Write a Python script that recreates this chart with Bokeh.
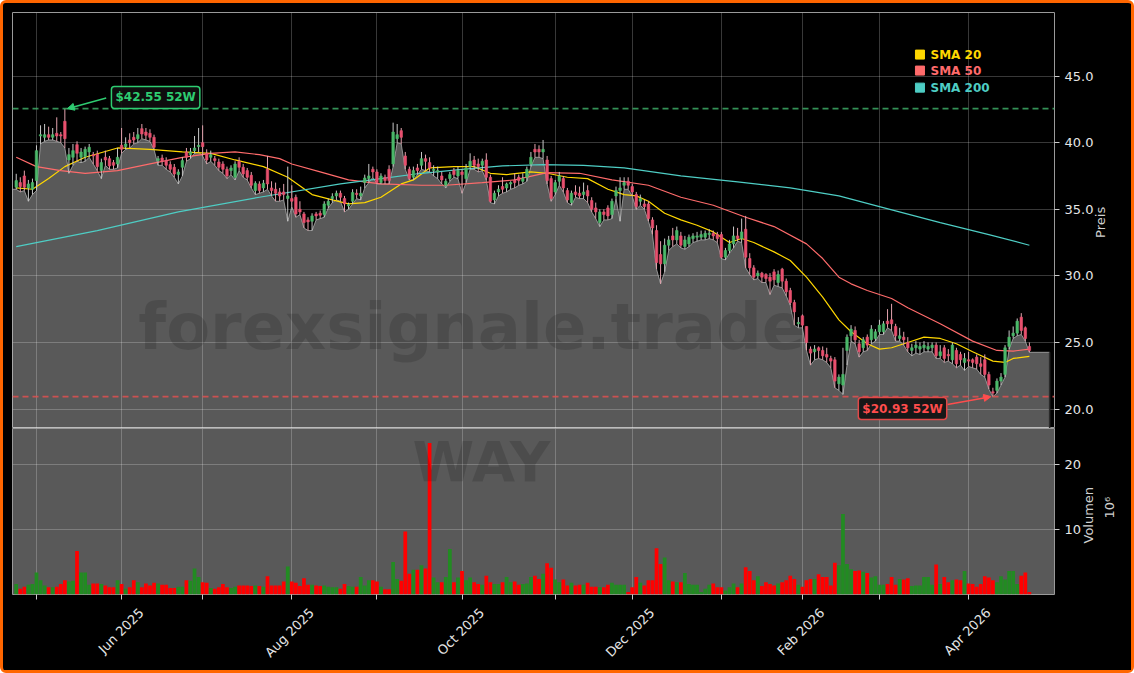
import math
from bokeh.plotting import figure
from bokeh.layouts import column
from bokeh.models import (ColumnDataSource, FixedTicker, PrintfTickFormatter,
                          Range1d, Label, Arrow, NormalHead, Span, LinearAxis)
from bokeh.core.properties import value
from bokeh.embed import file_html
from bokeh.resources import INLINE

# ---------------- data ----------------
opens = [
    36.65, 37.0, 37.5, 36.6, 36.5, 37.15, 40.5, 40.4, 40.6, 40.4,
    40.7, 40.6, 41.6, 38.7, 38.9, 39.85, 38.9, 38.95, 39.3, 39.1,
    39.15, 37.9, 38.9, 38.8, 38.5, 38.4, 39.8, 39.7, 40.2, 40.4,
    40.3, 41.05, 40.8, 40.7, 40.4, 38.65, 38.85, 38.65, 38.35, 38.15,
    37.6, 38.15, 39.3, 39.1, 39.4, 39.7, 40.0, 39.2, 38.9, 38.8,
    38.55, 38.4, 38.0, 37.9, 37.4, 38.6, 38.15, 37.9, 37.55, 36.4,
    36.9, 36.6, 38.0, 36.6, 36.5, 36.3, 36.3, 35.8, 35.8, 35.9,
    35.0, 34.65, 34.2, 34.1, 34.65, 34.7, 34.6, 35.3, 35.8, 36.0,
    36.2, 35.8, 35.25, 35.6, 36.2, 36.0, 37.0, 37.3, 38.0, 37.8,
    37.0, 37.4, 38.0, 38.4, 40.3, 40.9, 39.0, 38.0, 37.4, 38.1,
    38.3, 38.8, 38.5, 37.9, 37.8, 37.5, 36.8, 37.3, 37.9, 37.5,
    37.8, 37.3, 38.2, 38.7, 38.4, 38.3, 38.7, 37.4, 35.7, 36.3,
    36.7, 36.6, 36.9, 37.2, 37.4, 37.1, 37.4, 38.4, 39.5, 39.5,
    39.3, 38.7, 37.3, 36.3, 37.1, 37.3, 36.4, 35.5, 36.3, 36.2,
    36.1, 36.4, 35.65, 35.1, 34.0, 34.8, 35.1, 34.6, 36.0, 36.4,
    36.8, 37.1, 36.7, 36.1, 35.6, 35.4, 35.4, 34.2, 33.4, 31.6,
    30.9, 32.3, 33.0, 32.7, 33.0, 32.2, 32.4, 32.8, 32.9, 32.9,
    32.9, 33.1, 33.2, 33.1, 33.1, 31.4, 31.9, 32.4, 33.0, 32.8,
    33.5, 31.3, 30.6, 30.0, 30.2, 30.1, 29.9, 30.3, 29.5, 30.5,
    29.6, 28.9, 28.0, 26.4, 27.0, 26.2, 24.5, 24.3, 24.6, 24.4,
    24.1, 23.8, 23.7, 21.9, 21.8, 24.4, 25.5, 25.9, 24.9, 24.6,
    25.4, 25.2, 25.3, 25.8, 25.8, 26.6, 26.7, 26.2, 25.3, 25.4,
    25.0, 24.4, 24.6, 24.5, 24.6, 24.5, 24.6, 24.8, 24.0, 24.6,
    24.1, 23.7, 24.4, 24.1, 23.5, 23.7, 23.7, 23.9, 23.4, 23.7,
    22.6, 21.3, 21.4, 22.1, 22.6, 24.7, 25.5, 25.7, 26.9, 26.1, 24.7,
]
highs = [
    37.66, 37.4, 37.9, 37.2, 37.3, 39.8, 41.3, 41.4, 41.2, 41.1,
    41.9, 40.8, 42.55, 39.6, 39.9, 40.1, 39.6, 39.7, 39.9, 39.3,
    39.4, 38.8, 39.4, 39.0, 38.7, 39.6, 41.1, 40.4, 40.7, 40.8,
    41.1, 41.4, 41.1, 41.0, 40.6, 39.0, 39.1, 38.9, 38.6, 38.4,
    38.0, 38.9, 39.6, 39.6, 40.5, 41.1, 41.3, 39.5, 39.4, 39.0,
    38.8, 38.6, 38.2, 38.3, 38.6, 38.9, 38.4, 38.1, 37.8, 37.1,
    37.1, 37.2, 39.0, 37.1, 37.0, 36.6, 36.9, 38.2, 36.8, 36.1,
    35.6, 34.8, 34.4, 34.7, 34.8, 34.9, 35.6, 35.8, 36.2, 36.4,
    36.4, 36.0, 35.5, 36.5, 36.5, 36.7, 37.6, 38.4, 38.2, 38.0,
    37.7, 37.6, 38.3, 41.5, 41.4, 41.1, 39.3, 38.2, 38.2, 38.4,
    39.3, 39.1, 38.9, 38.3, 38.2, 37.8, 37.3, 37.8, 38.1, 38.2,
    38.0, 38.4, 39.2, 39.0, 38.8, 38.8, 39.2, 37.6, 36.4, 36.8,
    37.4, 37.0, 37.1, 37.7, 37.6, 37.7, 38.2, 39.3, 39.9, 39.8,
    40.2, 39.0, 37.5, 37.2, 37.8, 37.5, 36.6, 36.4, 36.8, 36.7,
    37.0, 36.8, 35.9, 35.5, 35.0, 35.0, 35.3, 35.8, 36.7, 37.4,
    37.4, 37.4, 36.9, 36.3, 36.1, 35.7, 35.6, 34.4, 33.8, 32.6,
    32.8, 33.0, 33.6, 33.7, 33.3, 33.0, 33.1, 33.2, 33.3, 33.4,
    33.4, 33.5, 33.4, 33.3, 33.3, 32.1, 32.7, 33.7, 33.6, 34.3,
    34.5, 31.7, 30.8, 30.4, 30.3, 30.2, 30.2, 30.5, 30.4, 30.6,
    29.8, 29.1, 28.2, 26.9, 27.1, 26.2, 24.7, 24.8, 24.7, 24.7,
    24.6, 24.0, 23.9, 22.6, 24.6, 25.6, 26.3, 26.2, 25.2, 25.4,
    25.6, 26.3, 26.0, 26.7, 26.6, 27.5, 27.9, 26.4, 26.1, 25.8,
    25.4, 24.9, 25.1, 25.0, 25.1, 25.0, 25.0, 25.0, 24.8, 24.8,
    24.5, 25.0, 24.6, 24.3, 24.2, 24.3, 23.8, 24.1, 23.9, 24.1,
    22.8, 21.6, 22.3, 22.7, 24.8, 25.9, 26.2, 26.8, 27.2, 26.2, 25.0,
]
lows = [
    36.5, 36.3, 36.4, 35.6, 36.1, 36.4, 39.9, 40.1, 40.2, 40.2,
    40.1, 40.0, 39.6, 37.7, 38.3, 38.6, 38.5, 38.6, 38.9, 38.4,
    37.9, 37.3, 38.3, 38.0, 38.0, 38.1, 39.2, 39.5, 39.6, 39.9,
    40.0, 40.3, 40.2, 40.1, 39.5, 38.3, 38.3, 38.0, 37.8, 37.4,
    36.9, 37.5, 38.6, 38.8, 39.2, 39.3, 39.0, 38.4, 38.6, 38.3,
    37.9, 37.7, 37.3, 37.6, 37.2, 37.9, 37.4, 37.2, 36.6, 36.1,
    36.2, 36.3, 36.5, 36.0, 35.6, 35.6, 35.7, 34.1, 35.2, 34.4,
    34.6, 33.6, 33.4, 33.4, 34.2, 34.3, 34.4, 35.1, 35.5, 35.7,
    35.6, 34.8, 35.0, 35.4, 35.8, 35.7, 36.6, 37.0, 37.4, 36.9,
    36.9, 36.9, 36.9, 38.2, 40.0, 39.9, 38.0, 37.2, 37.2, 37.6,
    38.0, 37.9, 37.8, 37.5, 37.3, 36.9, 36.6, 37.1, 37.4, 37.3,
    36.2, 37.0, 38.0, 38.0, 37.8, 37.9, 37.2, 35.5, 35.4, 36.0,
    36.2, 36.3, 36.5, 36.6, 36.8, 36.9, 37.1, 38.2, 38.9, 38.9,
    38.8, 36.9, 35.6, 36.1, 36.8, 36.3, 35.5, 35.3, 35.9, 35.8,
    35.8, 35.5, 34.8, 34.3, 33.7, 34.2, 34.2, 34.3, 35.8, 34.1,
    36.5, 36.5, 36.0, 35.0, 35.3, 35.0, 34.1, 33.1, 30.5, 29.4,
    30.3, 31.9, 32.2, 32.4, 32.1, 32.0, 32.2, 32.5, 32.6, 32.7,
    32.7, 32.8, 32.7, 32.5, 31.3, 31.2, 31.7, 32.1, 32.6, 32.5,
    30.6, 30.1, 29.7, 29.8, 29.5, 29.5, 28.6, 29.3, 29.2, 29.1,
    28.5, 27.8, 26.3, 26.1, 26.1, 24.4, 23.3, 23.7, 23.8, 23.7,
    23.5, 23.1, 21.6, 21.4, 21.1, 23.3, 25.1, 24.9, 23.9, 24.3,
    24.4, 24.9, 25.1, 25.6, 25.6, 26.1, 25.9, 25.1, 25.1, 24.8,
    24.3, 24.0, 24.2, 24.1, 24.3, 24.3, 24.3, 23.8, 23.8, 23.5,
    23.6, 23.4, 23.1, 23.3, 22.9, 23.2, 23.1, 23.0, 22.6, 22.4,
    21.5, 20.93, 21.2, 21.8, 22.4, 24.5, 25.3, 25.5, 25.6, 25.1, 24.26,
]
closes = [
    37.15, 36.7, 36.65, 36.9, 37.0, 39.4, 40.6, 40.6, 40.4, 40.6,
    40.5, 40.5, 40.3, 39.1, 39.4, 39.2, 39.3, 39.5, 39.65, 39.0,
    38.2, 38.5, 38.7, 38.25, 38.3, 38.9, 39.5, 39.9, 40.0, 40.2,
    40.6, 40.65, 40.55, 40.4, 39.65, 38.8, 38.6, 38.3, 38.0, 37.65,
    37.8, 38.65, 38.9, 39.3, 39.6, 39.8, 39.7, 38.7, 39.1, 38.65,
    38.15, 38.0, 37.5, 38.1, 38.4, 38.15, 37.65, 37.4, 36.8, 36.95,
    36.4, 36.95, 36.9, 36.4, 36.2, 36.0, 36.1, 36.0, 35.6, 34.65,
    34.8, 34.0, 34.05, 34.5, 34.5, 34.55, 35.4, 35.6, 35.95, 36.2,
    35.9, 35.4, 35.35, 36.25, 36.1, 36.2, 37.35, 37.5, 37.8, 37.0,
    37.5, 37.15, 37.15, 40.8, 40.6, 40.4, 38.3, 37.3, 37.9, 37.9,
    38.8, 38.6, 38.1, 38.0, 37.9, 37.2, 37.1, 37.6, 37.6, 37.9,
    37.6, 38.1, 38.6, 38.3, 38.2, 38.6, 37.4, 35.6, 36.2, 36.5,
    36.5, 36.9, 37.0, 37.0, 37.15, 37.3, 38.0, 38.9, 39.3, 39.3,
    39.5, 37.15, 35.8, 37.0, 37.5, 36.6, 35.7, 36.2, 36.1, 36.0,
    36.3, 36.0, 35.0, 34.8, 34.8, 34.6, 34.5, 35.6, 36.4, 36.6,
    37.0, 36.8, 36.3, 35.2, 35.8, 35.2, 34.3, 33.6, 31.0, 30.9,
    32.3, 32.7, 32.7, 33.4, 32.3, 32.7, 32.9, 33.0, 33.0, 33.1,
    33.2, 33.2, 33.0, 32.8, 31.4, 31.9, 32.4, 33.0, 32.8, 33.3,
    31.4, 30.6, 29.9, 30.2, 29.9, 29.8, 29.6, 29.7, 30.1, 29.6,
    28.8, 28.0, 27.3, 26.5, 26.3, 25.0, 24.2, 24.5, 24.4, 24.0,
    23.9, 23.6, 22.1, 22.4, 22.6, 25.4, 26.0, 25.2, 24.3, 25.2,
    24.8, 26.0, 25.8, 26.3, 26.4, 26.4, 26.4, 25.5, 25.5, 25.2,
    24.6, 24.6, 24.8, 24.7, 24.8, 24.7, 24.8, 24.0, 24.3, 23.8,
    24.0, 24.8, 23.4, 23.7, 23.8, 23.6, 23.5, 23.4, 23.2, 22.6,
    21.8, 21.2, 22.1, 22.4, 24.6, 25.4, 25.7, 26.6, 25.9, 25.3, 24.4,
]
volumes = [  # millions
    1.6, 0.9, 1.2, 1.5, 1.6, 3.4, 2.2, 1.4, 1.1, 1.1,
    1.2, 1.6, 2.2, 2.0, 2.1, 6.7, 3.4, 3.4, 1.5, 1.7,
    1.7, 1.6, 1.4, 1.1, 1.1, 2.2, 1.6, 0.9, 1.1, 2.2,
    1.9, 1.1, 1.7, 1.4, 1.8, 1.7, 1.5, 1.5, 1.0, 1.0,
    1.2, 1.2, 2.2, 2.1, 4.0, 2.7, 1.9, 1.8, 1.0, 0.9,
    1.1, 1.6, 1.1, 1.0, 1.2, 1.4, 1.4, 1.4, 1.3, 1.4,
    1.3, 1.2, 2.8, 1.4, 1.4, 1.4, 2.0, 4.3, 2.0, 1.8,
    1.3, 2.5, 1.5, 1.5, 1.4, 1.3, 1.4, 1.2, 1.1, 1.1,
    0.9, 1.6, 1.3, 1.2, 1.2, 2.7, 1.4, 2.2, 2.2, 2.0,
    1.2, 0.8, 0.8, 5.0, 2.4, 2.1, 9.7, 3.2, 3.8, 3.8,
    4.5, 4.0, 23.3, 2.6, 1.9, 1.9, 2.7, 7.0, 1.9, 2.6,
    3.6, 2.2, 2.6, 1.9, 1.6, 1.5, 2.9, 1.9, 1.6, 1.6,
    1.9, 2.7, 1.9, 2.0, 1.5, 1.6, 1.7, 2.7, 2.9, 2.4,
    3.2, 4.8, 4.1, 2.3, 1.9, 2.3, 1.4, 1.8, 1.4, 1.5,
    1.5, 1.8, 1.2, 1.2, 1.1, 1.1, 1.5, 1.8, 1.5, 1.5,
    1.5, 0.4, 1.1, 2.7, 1.8, 1.4, 2.2, 2.2, 7.1, 4.7,
    5.7, 2.2, 2.0, 1.9, 1.9, 3.3, 1.6, 1.5, 1.5, 0.4,
    0.9, 1.5, 1.7, 1.1, 1.1, 0.6, 1.1, 1.7, 1.1, 1.7,
    4.2, 3.6, 2.2, 2.8, 1.3, 1.9, 1.6, 1.4, 1.7, 1.9,
    2.2, 2.9, 2.4, 1.5, 1.2, 2.2, 2.4, 2.4, 3.1, 2.7,
    2.7, 1.4, 4.9, 4.5, 12.4, 4.7, 3.9, 3.6, 3.7, 3.5,
    3.3, 2.6, 2.8, 1.5, 1.5, 1.6, 2.7, 1.5, 2.4, 2.3,
    2.5, 1.3, 1.4, 1.4, 2.7, 2.7, 1.5, 4.6, 1.6, 2.7,
    1.9, 2.2, 2.3, 2.2, 3.6, 1.7, 1.6, 1.2, 1.6, 2.8,
    2.6, 2.2, 1.9, 2.8, 2.3, 3.6, 3.6, 1.6, 2.9, 3.4, 0.4,
]
sma20_idx = [0, 4, 8, 12, 17, 25, 33, 41, 48, 54, 61, 67, 73, 78, 82, 86, 90, 95, 98,
             102, 108, 113, 117, 121, 127, 131, 136, 141, 146, 150, 153, 156, 160, 164,
             168, 172, 176, 179, 182, 187, 191, 195, 199, 203, 206, 210, 213, 216, 220,
             224, 228, 232, 236, 241, 244, 246, 250]
sma20_val = [36.6, 36.5, 37.3, 38.2, 38.9, 39.6, 39.5, 39.3, 39.2, 38.7, 38.2, 37.4, 36.1,
             35.7, 35.4, 35.5, 35.9, 36.9, 37.2, 38.1, 38.2, 38.2, 37.7, 37.6, 37.8, 37.7,
             37.4, 37.3, 36.5, 36.1, 36.0, 35.6, 34.7, 34.2, 33.8, 33.3, 32.5, 32.8, 32.5,
             31.8, 31.15, 29.9, 28.4, 26.7, 25.8, 24.9, 24.5, 24.6, 25.0, 25.4, 25.3, 24.9,
             24.3, 23.6, 23.5, 23.8, 23.95]
sma50_idx = [0, 5, 11, 17, 25, 33, 41, 48, 54, 60, 65, 68, 75, 82, 90, 100, 106, 115, 123,
             131, 139, 147, 156, 164, 172, 180, 187, 195, 199, 203, 206, 210, 216, 220,
             228, 236, 242, 246, 250]
sma50_val = [38.9, 38.2, 37.9, 37.7, 37.9, 38.4, 38.9, 39.2, 39.3, 39.1, 38.8, 38.4, 37.8,
             37.2, 36.9, 36.8, 36.8, 37.0, 37.2, 37.75, 37.7, 37.2, 36.8, 35.9, 35.3, 34.4,
             33.7, 32.4, 31.3, 29.9, 29.4, 28.9, 28.3, 27.6, 26.4, 25.1, 24.4, 24.35, 24.5]
sma200_idx = [0, 20, 40, 60, 80, 90, 100, 110, 120, 130, 140, 150, 164, 178, 191, 203, 213,
              228, 240, 250]
sma200_val = [32.2, 33.4, 34.8, 35.9, 36.9, 37.3, 37.7, 38.0, 38.25, 38.35, 38.3, 38.1, 37.5,
              37.05, 36.6, 36.0, 35.2, 34.0, 33.1, 32.3]
month_idx = [5, 26, 46, 68, 89, 110, 133, 152, 174, 194, 213, 235]
month_labels = ["", "Jun 2025", "", "Aug 2025", "", "Oct 2025", "", "Dec 2025", "",
                "Feb 2026", "", "Apr 2026"]
price_ticks = [20, 25, 30, 35, 40, 45]
volume_ticks = [10, 20]
sma_names = ["SMA 20", "SMA 50", "SMA 200"]

# ---------------- styles ----------------
FONT = "DejaVu Sans"
SMA_COLORS = ["#FFD700", "#FF6B6B", "#4ECDC4"]
BODY_UP, BODY_DN = "#4CB86A", "#E8506E"
WICK_UP, WICK_DN = "#C8C8C8", "#E3A3AE"
VOL_UP, VOL_DN = "#228B22", "#FF0000"
HI_COLOR, LO_COLOR = "#2ECC71", "#FF4D4D"
TICK_COLOR = "#E6E6E6"
LABEL_COLOR = "#D0D0D0"
GRID_ALPHA = 0.22
XLABEL_SHIFT = 4.9   # rotated month labels: right end sits this far right of the tick

n = len(closes)
idx = list(range(n))
up = [c >= o for o, c in zip(opens, closes)]
src = ColumnDataSource(dict(
    x=idx, h=highs, l=lows,
    top=[max(o, c) for o, c in zip(opens, closes)],
    bot=[min(o, c) for o, c in zip(opens, closes)],
    body=[BODY_UP if u else BODY_DN for u in up],
    wick=[WICK_UP if u else WICK_DN for u in up],
    vol=volumes,
    vcol=[VOL_UP if u else VOL_DN for u in up],
))
hi = max(highs)
hi_i = highs.index(hi)
lo = min(lows)
lo_i = lows.index(lo)

x_range = Range1d(-0.92, 256.2)
W, LEFT, FRAME_W = 1128, 9, 1042
RIGHT = W - LEFT - FRAME_W


def style_yaxis(fig, ticks, fmt):
    ax = fig.yaxis[0]
    ax.ticker = FixedTicker(ticks=ticks)
    if fmt:
        ax.formatter = PrintfTickFormatter(format=fmt)
    ax.axis_line_color = None
    ax.major_tick_line_color = "#CCCCCC"
    ax.major_tick_out = 5
    ax.major_tick_in = 0
    ax.minor_tick_line_color = None
    ax.major_label_text_color = TICK_COLOR
    ax.major_label_text_font = FONT
    ax.major_label_text_font_size = "13px"
    fig.ygrid.grid_line_color = "white"
    fig.ygrid.grid_line_alpha = GRID_ALPHA
    fig.xgrid.ticker = FixedTicker(ticks=month_idx)
    fig.xgrid.grid_line_color = "white"
    fig.xgrid.grid_line_alpha = GRID_ALPHA


def text_axis(fig, start, text, standoff):
    # a right-hand axis carrying one rotated label (reads bottom to top)
    fig.add_layout(LinearAxis(
        ticker=FixedTicker(ticks=[start]), major_label_overrides={start: text},
        major_label_orientation=math.pi / 2, major_label_standoff=standoff,
        major_tick_line_color=None, major_tick_out=0, major_tick_in=0,
        minor_tick_line_color=None, axis_line_color=None,
        major_label_text_font=FONT, major_label_text_font_size="13px",
        major_label_text_color=LABEL_COLOR), "right")


# ---------------- price panel ----------------
p = figure(width=W, height=425, x_range=x_range, y_range=Range1d(18.54, 49.77),
           x_axis_location=None, y_axis_location="right",
           toolbar_location=None, output_backend="svg",
           min_border_left=LEFT, min_border_right=RIGHT, min_border_top=9,
           min_border_bottom=0,
           background_fill_color="black", border_fill_color="black",
           outline_line_color="#9A9A9A", outline_line_width=1)
style_yaxis(p, price_ticks, "%.1f")
text_axis(p, 32.85, "Preis", 4)

fill_x = [idx[0] - 1] + idx + [idx[-1] + 5]
fill_y = [lows[0]] + lows + [lows[-1]]
p.varea(x=fill_x, y1=[0] * len(fill_x), y2=fill_y, fill_color="white", fill_alpha=0.35)
p.line(fill_x, fill_y, line_color="#BDBDBD", line_width=1, line_alpha=0.7)
p.segment(x0=[fill_x[-1]], y0=[0], x1=[fill_x[-1]], y1=[fill_y[-1]],
          line_color="#2A2A2A", line_width=1.5)

p.text(x=[112.4], y=[26.16], text=["forexsignale.trade"], text_font=value(FONT),
       text_font_style="bold", text_font_size="64px", text_color="black",
       text_alpha=0.14, text_align="center", text_baseline="middle")

p.add_layout(Span(location=hi, dimension="width", line_color="#3DAA66",
                  line_dash="6 4", line_width=1.6, line_alpha=0.85))
p.add_layout(Span(location=lo, dimension="width", line_color="#E05050",
                  line_dash="6 4", line_width=1.6, line_alpha=0.85))

for xs, ys, col in zip([sma20_idx, sma50_idx, sma200_idx],
                       [sma20_val, sma50_val, sma200_val], SMA_COLORS):
    p.line(xs, ys, line_color=col, line_width=1.2)

p.segment(x0="x", y0="h", x1="x", y1="l", line_color="wick", line_width=1, source=src)
p.vbar(x="x", width=0.62, top="top", bottom="bot", fill_color="body",
       line_color="body", line_width=0.6, source=src)

# 52W annotations
p.add_layout(Arrow(end=NormalHead(size=7, fill_color=HI_COLOR, line_color=HI_COLOR),
                   x_start=hi_i + 10.2, y_start=hi + 0.8, x_end=hi_i + 0.6, y_end=hi,
                   line_color=HI_COLOR, line_width=1.5))
p.add_layout(Label(x=hi_i + 22.4, y=hi + 0.84, text=f"${hi:.2f} 52W",
                   text_align="center", text_baseline="middle",
                   text_font=FONT, text_font_style="bold", text_font_size="12px",
                   text_color=HI_COLOR, background_fill_color="#101010",
                   background_fill_alpha=0.9, border_line_color=HI_COLOR,
                   border_line_width=1.5, padding=4, border_radius=3))
p.add_layout(Arrow(end=NormalHead(size=7, fill_color=LO_COLOR, line_color=LO_COLOR),
                   x_start=lo_i - 11.2, y_start=lo - 0.59, x_end=lo_i - 0.5, y_end=lo,
                   line_color=LO_COLOR, line_width=1.5))
p.add_layout(Label(x=lo_i - 22.3, y=lo - 0.89, text=f"${lo:.2f} 52W",
                   text_align="center", text_baseline="middle",
                   text_font=FONT, text_font_style="bold", text_font_size="12px",
                   text_color=LO_COLOR, background_fill_color="#101010",
                   background_fill_alpha=0.9, border_line_color="#E04848",
                   border_line_width=1.5, padding=4, border_radius=3))

# legend
leg_y = [46.61, 45.41, 44.13]
p.scatter(x=[223.0] * 3, y=leg_y, marker="square", size=9, color=SMA_COLORS)
p.text(x=[225.6] * 3, y=leg_y, text=sma_names, text_color=SMA_COLORS,
       text_font=value(FONT), text_font_style="bold", text_font_size="12px",
       text_baseline="middle", text_align="left")

# ---------------- volume panel ----------------
v = figure(width=W, height=242, x_range=x_range, y_range=Range1d(0, 25.54),
           y_axis_location="right", toolbar_location=None, output_backend="svg",
           min_border_left=LEFT, min_border_right=RIGHT, min_border_top=0,
           min_border_bottom=76,
           background_fill_color="#595959", border_fill_color="black",
           outline_line_color="#9A9A9A", outline_line_width=1)
style_yaxis(v, volume_ticks, None)
text_axis(v, 7.85, "Volumen", 4)
text_axis(v, 11.7, "10\u2076", 3)
v.vbar(x="x", width=0.92, top="vol", bottom=0, fill_color="vcol", line_color=None,
       source=src)
v.text(x=[114.8], y=[20.4], text=["WAY"], text_font=value(FONT), text_font_style="bold",
       text_font_size="56px", text_color="black", text_alpha=0.14,
       text_align="center", text_baseline="middle")

label_pos = [m + XLABEL_SHIFT for m, lab in zip(month_idx, month_labels) if lab]
label_txt = [lab for lab in month_labels if lab]
xa = v.xaxis[0]
xa.ticker = FixedTicker(ticks=label_pos, minor_ticks=month_idx)
xa.major_label_overrides = {pos: lab for pos, lab in zip(label_pos, label_txt)}
xa.major_label_orientation = math.pi / 4
xa.major_label_standoff = 11
xa.major_label_text_color = TICK_COLOR
xa.major_label_text_font = FONT
xa.major_label_text_font_size = "13px"
xa.axis_line_color = None
xa.major_tick_line_color = None
xa.major_tick_out = 5
xa.major_tick_in = 0
xa.minor_tick_line_color = "#CCCCCC"
xa.minor_tick_out = 5
xa.minor_tick_in = 0

layout = column(p, v, styles={"border": "3px solid #FF6600", "border-radius": "6px",
                              "background-color": "black"})

open("out.html", "w").write(file_html(layout, INLINE))
